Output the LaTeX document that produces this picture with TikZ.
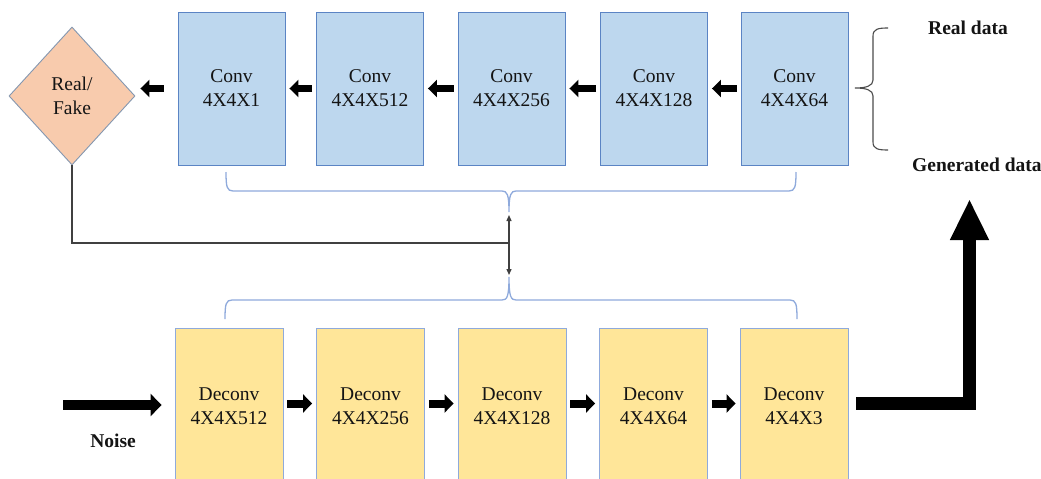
\documentclass[tikz,border=0pt]{standalone}
\usepackage{fontspec}
\setmainfont{Liberation Serif}
\usetikzlibrary{arrows.meta,shapes.geometric}
\definecolor{convfill}{HTML}{BDD7EE}
\definecolor{convdraw}{HTML}{5B84C4}
\definecolor{defill}{HTML}{FFE699}
\definecolor{dedraw}{HTML}{8FAADC}
\definecolor{rffill}{HTML}{F8CBAD}
\definecolor{rfdraw}{HTML}{8497B0}
\definecolor{bracecol}{HTML}{8FAADC}
\definecolor{txt}{HTML}{141414}
\begin{document}
\begin{tikzpicture}[x=1pt,y=-1pt,
  font=\fontsize{19.5}{24}\selectfont, text=txt,
  convbox/.style={draw=convdraw, line width=0.9pt, fill=convfill, minimum width=107pt, minimum height=153pt, inner sep=0pt, align=center},
  debox/.style={draw=dedraw, line width=0.9pt, fill=defill, minimum width=108pt, minimum height=157pt, inner sep=0pt, align=center},
  rfbox/.style={diamond, draw=rfdraw, line width=0.9pt, fill=rffill, minimum width=126pt, minimum height=138pt, inner sep=0pt, align=center},
  sarrow/.style={line width=7pt, -{Triangle[length=9pt,width=17pt]}, shorten >=4pt, shorten <=4pt},
  darrow/.style={line width=8pt, -{Triangle[length=9pt,width=18pt]}, shorten >=4pt, shorten <=4pt},
  noisearrow/.style={line width=10pt, -{Triangle[length=11pt,width=22pt]}},
  bigarrow/.style={line width=13pt, line join=miter, -{Triangle[length=41pt,width=36pt]}},
  lbl/.style={font=\fontsize{19.5}{22}\selectfont\bfseries, inner sep=0pt},
  bracestyle/.style={draw=bracecol, line width=1.3pt},
  link/.style={draw=black!75, line width=1.3pt}
]
\useasboundingbox (0,0) rectangle (1041,479);
\fill[white] (0,0) rectangle (1041,479);

% discriminator (conv) boxes
\node[convbox] (c1) at (231.5,88.5) {Conv\\4X4X1};
\node[convbox] (c2) at (370,88.5) {Conv\\4X4X512};
\node[convbox] (c3) at (511.5,88.5) {Conv\\4X4X256};
\node[convbox] (c4) at (654,88.5) {Conv\\4X4X128};
\node[convbox] (c5) at (794.5,88.5) {Conv\\4X4X64};

% generator (deconv) boxes
\node[debox] (d1) at (229,406.5) {Deconv\\4X4X512};
\node[debox] (d2) at (370.5,406.5) {Deconv\\4X4X256};
\node[debox] (d3) at (512,406.5) {Deconv\\4X4X128};
\node[debox] (d4) at (653.5,406.5) {Deconv\\4X4X64};
\node[debox] (d5) at (794,406.5) {Deconv\\4X4X3};

% real/fake
\node[rfbox] (rf) at (72,96) {Real/\\Fake};

% small arrows top
\draw[sarrow] (c5.west) -- (c4.east);
\draw[sarrow] (c4.west) -- (c3.east);
\draw[sarrow] (c3.west) -- (c2.east);
\draw[sarrow] (c2.west) -- (c1.east);
\draw[sarrow, shorten <=14pt, shorten >=5pt] (c1.west) -- (c1.west -| rf.east);

% small arrows bottom
\draw[darrow] ([yshift=3pt]d1.east) -- ([yshift=3pt]d2.west);
\draw[darrow] ([yshift=3pt]d2.east) -- ([yshift=3pt]d3.west);
\draw[darrow] ([yshift=3pt]d3.east) -- ([yshift=3pt]d4.west);
\draw[darrow] ([yshift=3pt]d4.east) -- ([yshift=3pt]d5.west);

% noise arrow
\coordinate (noise) at (63,405);
\draw[noisearrow, shorten >=13pt] (noise) -- (d1.west |- noise);
\node[lbl] (noiselbl) at (113,441) {Noise};

% big generated arrow
\coordinate (gtip) at (969.5,199);
\draw[bigarrow, shorten <=8pt] ([yshift=3.5pt]d5.east) -| (gtip);

% braces
\coordinate (tb) at (509,212);
\coordinate (bb) at (509,277);
\draw[bracestyle] (226,172) .. controls (226,187) and (227,191) .. (233,191) -- (502,191) .. controls (507,191) and (509,194) .. (tb)
  .. controls (509,194) and (511,191) .. (516,191) -- (789,191) .. controls (795,191) and (796,187) .. (796,172);
\draw[bracestyle] (225,319) .. controls (225,304) and (226,300) .. (232,300) -- (502,300) .. controls (507,300) and (509,297) .. (bb)
  .. controls (509,297) and (511,300) .. (516,300) -- (790,300) .. controls (796,300) and (797,304) .. (797,319);

% feedback line and double arrow
\coordinate (mid) at (509,243);
\coordinate (up) at (509,215);
\coordinate (dn) at (509,275);
\draw[link] (rf.south) |- (mid);
\draw[link, {Triangle[length=6pt,width=5pt]}-{Triangle[length=6pt,width=5pt]}] (up) -- (dn);

% right brace
\draw[draw=black!70, line width=1.1pt] (888,28) .. controls (878,28) and (873,29) .. (873,36) -- (873,80)
  .. controls (873,86) and (866,88) .. (855,88) .. controls (866,88) and (873,90) .. (873,96) -- (873,142)
  .. controls (873,149) and (878,150) .. (888,150);

\node[lbl] (real) at (968,28) {Real data};
\node[lbl, anchor=west] (gen) at (912,165) {Generated data};
\end{tikzpicture}
\end{document}
